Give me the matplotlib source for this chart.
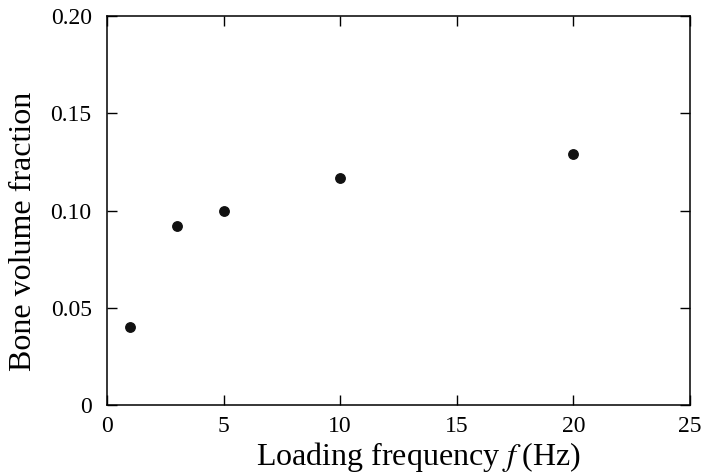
import matplotlib
matplotlib.use("Agg")
import matplotlib.pyplot as plt

# loading frequency (Hz) vs bone volume fraction
frequency = [1, 3, 5, 10, 20]
bone_fraction = [0.040, 0.092, 0.100, 0.117, 0.129]

x_ticks = [0, 5, 10, 15, 20, 25]
y_ticks = [0, 0.05, 0.10, 0.15, 0.20]
y_tick_labels = ["0", "0.05", "0.10", "0.15", "0.20"]

plt.rcParams["font.family"] = ["Liberation Serif", "DejaVu Serif"]
plt.rcParams["mathtext.fontset"] = "stix"

fig = plt.figure(figsize=(7.04, 4.76), dpi=100)
ax = fig.add_axes([0.152, 0.149, 0.828, 0.817])

ax.plot(frequency, bone_fraction, "o", color="#111111", markersize=6.8)

ax.set_xlim(0, 25)
ax.set_ylim(0, 0.20)
ax.set_xticks(x_ticks)
ax.set_yticks(y_ticks)
ax.set_yticklabels(y_tick_labels)
ax.tick_params(direction="in", length=7, width=1, labelsize=17,
               top=True, right=True)
ax.tick_params(axis="x", pad=8)
ax.tick_params(axis="y", pad=11)
for s in ax.spines.values():
    s.set_linewidth(1.1)

ax.set_xlabel("Loading frequency $f\\;$(Hz)", fontsize=23, labelpad=2)
ax.set_ylabel("Bone volume fraction", fontsize=23, labelpad=9)
# labels sit a little off-centre in the original
ax.xaxis.label.set_x(0.534)
ax.yaxis.label.set_y(0.446)

fig.savefig("out.png", dpi=100)
